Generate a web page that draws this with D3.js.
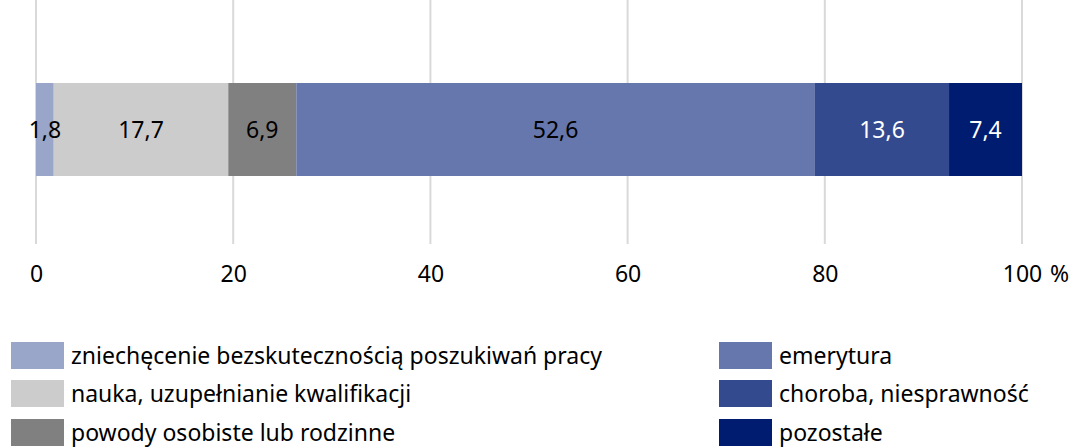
<!DOCTYPE html>
<html>
<head>
<meta charset="utf-8">
<script src="https://cdn.jsdelivr.net/npm/d3@7"></script>
<style>
  body { margin: 0; background: #fff; }
  svg { display: block; font-family: "Noto Sans", "Open Sans", sans-serif; }
</style>
</head>
<body>
<div id="chart"></div>
<script>
// Categories, values, colours (one stacked bar, in %)
const categories = [
  "zniechęcenie bezskutecznością poszukiwań pracy",
  "nauka, uzupełnianie kwalifikacji",
  "powody osobiste lub rodzinne",
  "emerytura",
  "choroba, niesprawność",
  "pozostałe"
];
const values = [1.8, 17.7, 6.9, 52.6, 13.6, 7.4];
const colors = ["#99a6c9", "#cccccc", "#808080", "#6677ad", "#334a8f", "#001c71"];
const labelColors = ["#000", "#000", "#000", "#000", "#fff", "#fff"];
const ticks = [0, 20, 40, 60, 80, 100];

const W = 1072, H = 448;
const fontSize = 23;

const svg = d3.select("#chart").append("svg")
  .attr("width", W)
  .attr("height", H);

const x = d3.scaleLinear().domain([0, 100]).range([36, 1022]);

// gridlines
svg.append("g")
  .selectAll("line")
  .data(ticks)
  .join("line")
  .attr("x1", d => x(d))
  .attr("x2", d => x(d))
  .attr("y1", 0)
  .attr("y2", 244)
  .attr("stroke", "#d9d9d9")
  .attr("stroke-width", 2);

// stacked segments
let acc = 0;
const segs = values.map((v, i) => {
  const s = { start: acc, end: acc + v, value: v, i };
  acc += v;
  return s;
});

const barTop = 83, barH = 93;

svg.append("g")
  .selectAll("rect")
  .data(segs)
  .join("rect")
  .attr("x", d => x(d.start))
  .attr("width", d => x(d.end) - x(d.start))
  .attr("y", barTop)
  .attr("height", barH)
  .attr("fill", d => colors[d.i]);

const fmt = v => d3.format(".1f")(v).replace(".", ",");

svg.append("g")
  .selectAll("text")
  .data(segs)
  .join("text")
  .attr("x", d => x((d.start + d.end) / 2))
  .attr("y", barTop + barH / 2)
  .attr("dy", "0.35em")
  .attr("text-anchor", "middle")
  .attr("font-size", fontSize)
  .attr("fill", d => labelColors[d.i])
  .text(d => fmt(d.value));

// x axis labels (no axis line)
const axis = d3.axisBottom(x).tickValues(ticks).tickSize(0).tickPadding(0);
const gx = svg.append("g")
  .attr("transform", "translate(0,266)")
  .call(axis);
gx.select(".domain").remove();
gx.selectAll("text")
  .attr("font-size", fontSize)
  .attr("font-family", "Noto Sans, Open Sans, sans-serif")
  .attr("fill", "#000");

svg.append("text")
  .attr("x", 1050)
  .attr("y", 266)
  .attr("dy", "0.71em")
  .attr("font-size", fontSize)
  .text("%");

// legend: two columns
const legendPos = [
  { x: 11, y: 342 }, { x: 11, y: 380 }, { x: 11, y: 419 },
  { x: 719, y: 342 }, { x: 719, y: 380 }, { x: 719, y: 419 }
];

const leg = svg.append("g")
  .selectAll("g")
  .data(categories)
  .join("g")
  .attr("transform", (d, i) => `translate(${legendPos[i].x},${legendPos[i].y})`);

leg.append("rect")
  .attr("width", 53)
  .attr("height", 27)
  .attr("fill", (d, i) => colors[i]);

leg.append("text")
  .attr("x", 60)
  .attr("y", 13.5)
  .attr("dy", "0.35em")
  .attr("font-size", fontSize)
  .attr("fill", "#000")
  .text(d => d);
</script>
</body>
</html>
